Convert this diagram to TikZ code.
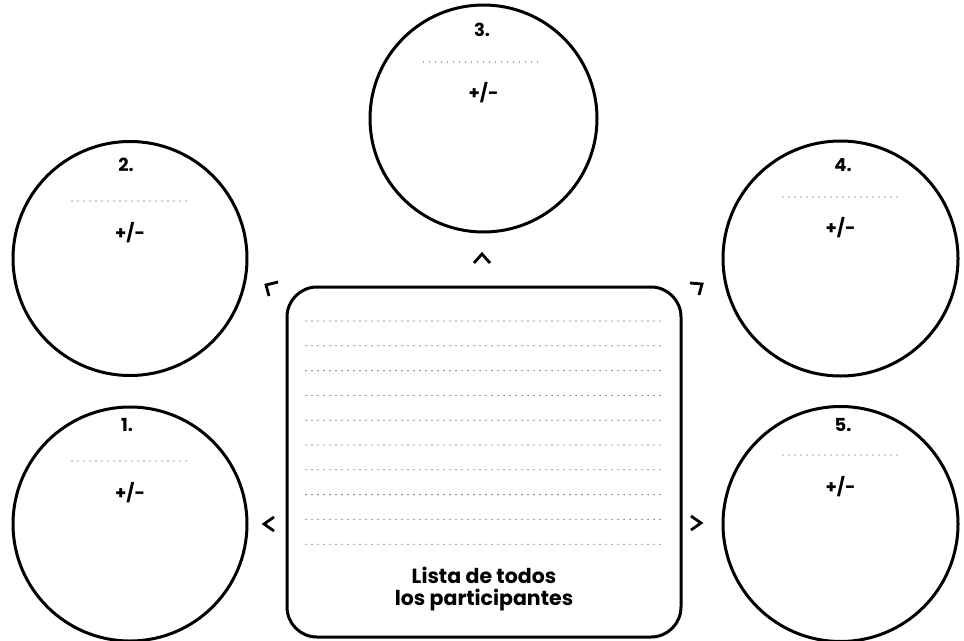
\documentclass[tikz,border=0pt]{standalone}
\usepackage{fontspec}
\setmainfont{Poppins}

\begin{document}
\begin{tikzpicture}[x=1pt,y=-1pt,
  ring/.style={draw,circle,line width=3pt,inner sep=0pt},
  num/.style={font=\bfseries\fontsize{18}{20}\selectfont,inner sep=0pt},
  dotline/.style={black!75,line width=1.3pt,line cap=round,dash pattern=on 0pt off 6pt},
  chev/.style={line width=2.8pt,miter limit=10}]
\useasboundingbox (0,0) rectangle (964,640);

% Draw the five circles with their headings
\foreach \n/\cx/\cy/\s/\lx/\ly/\dx/\dy/\py in {
    1/130/524/234/127/425/130/461/493,
    2/130/258.5/234/126/165/130/201/233,
    3/483.5/118.5/227/482/30/481.5/62/93,
    4/840.5/258.5/235/843/165/841/197/228,
    5/840.5/524/235/843/425/841/455/487} {
  \node[ring,minimum size=\s] (c\n) at (\cx,\cy) {};
  \node[num] (c\n-num) at (\lx,\ly) {\n.};
  \draw[dotline] (\dx-58,\dy) -- (\dx+58,\dy);
  \node[num] (c\n-pm) at (\cx,\py) {+/-};
}

% Draw the list box
\node[draw,line width=3pt,rounded corners=30pt,minimum width=394,minimum height=350,inner sep=0pt]
  (list) at (484,462) {};
\foreach \i in {0,...,9}
  \draw[dotline] (306,321+24.8*\i) -- (665,321+24.8*\i);
\node[font=\bfseries\fontsize{20.5}{22}\selectfont,align=center] (list-title) at (484,589)
  {Lista de todos\\los participantes};

% Draw the small arrow marks
\draw[chev] (274,517) -- (264,524) -- (274,531);
\draw[chev] (691,516) -- (701,523) -- (691,530);
\draw[chev] (474,263) -- (482,254) -- (490,263);
\draw[chev] (278,282) -- (266,285) -- (269,296);
\draw[chev] (690,283) -- (702,284) -- (699,295);

\end{tikzpicture}
\end{document}
